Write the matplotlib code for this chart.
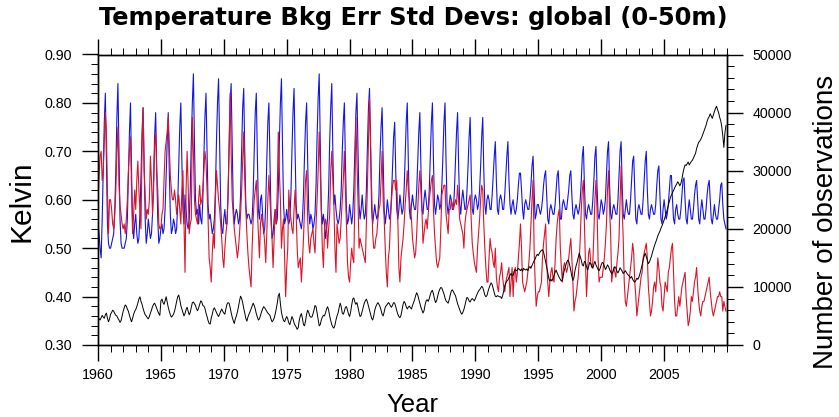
import numpy as np
import matplotlib
matplotlib.use("Agg")
import matplotlib.pyplot as plt
from matplotlib.ticker import MultipleLocator, FormatStrFormatter

# ---------------- data (monthly, one row per year, 1960..2009) ----------------
years = list(range(1960, 2010))

blue_std = [
    [0.55, 0.53, 0.50, 0.48, 0.56, 0.66, 0.76, 0.82, 0.68, 0.55, 0.51, 0.50],  # 1960
    [0.50, 0.51, 0.52, 0.53, 0.58, 0.66, 0.77, 0.84, 0.70, 0.56, 0.51, 0.50],
    [0.50, 0.50, 0.51, 0.52, 0.56, 0.65, 0.74, 0.80, 0.66, 0.55, 0.52, 0.55],
    [0.57, 0.53, 0.51, 0.52, 0.57, 0.65, 0.74, 0.79, 0.67, 0.56, 0.51, 0.53],
    [0.56, 0.54, 0.52, 0.53, 0.57, 0.64, 0.73, 0.78, 0.66, 0.56, 0.51, 0.52],
    [0.54, 0.55, 0.53, 0.54, 0.58, 0.65, 0.72, 0.78, 0.66, 0.57, 0.53, 0.54],  # 1965
    [0.56, 0.55, 0.53, 0.54, 0.59, 0.67, 0.75, 0.80, 0.68, 0.58, 0.55, 0.61],
    [0.58, 0.55, 0.54, 0.56, 0.62, 0.72, 0.80, 0.86, 0.72, 0.60, 0.57, 0.58],
    [0.55, 0.59, 0.56, 0.55, 0.60, 0.69, 0.77, 0.82, 0.70, 0.59, 0.56, 0.57],
    [0.55, 0.53, 0.54, 0.56, 0.62, 0.72, 0.80, 0.85, 0.72, 0.59, 0.54, 0.53],
    [0.56, 0.58, 0.55, 0.55, 0.61, 0.71, 0.80, 0.84, 0.71, 0.59, 0.55, 0.57],  # 1970
    [0.58, 0.57, 0.55, 0.56, 0.61, 0.70, 0.79, 0.83, 0.70, 0.59, 0.56, 0.57],
    [0.57, 0.56, 0.55, 0.56, 0.61, 0.70, 0.78, 0.82, 0.69, 0.58, 0.56, 0.60],
    [0.61, 0.57, 0.53, 0.54, 0.59, 0.68, 0.76, 0.80, 0.68, 0.57, 0.52, 0.53],
    [0.56, 0.58, 0.55, 0.56, 0.62, 0.72, 0.80, 0.85, 0.71, 0.59, 0.55, 0.56],
    [0.58, 0.56, 0.55, 0.56, 0.61, 0.70, 0.78, 0.83, 0.70, 0.59, 0.56, 0.57],  # 1975
    [0.56, 0.55, 0.54, 0.56, 0.61, 0.69, 0.76, 0.80, 0.68, 0.58, 0.55, 0.57],
    [0.56, 0.54, 0.55, 0.57, 0.63, 0.73, 0.81, 0.86, 0.72, 0.58, 0.55, 0.57],
    [0.55, 0.52, 0.54, 0.56, 0.62, 0.72, 0.79, 0.84, 0.70, 0.59, 0.61, 0.58],
    [0.56, 0.55, 0.56, 0.58, 0.62, 0.70, 0.76, 0.80, 0.68, 0.58, 0.55, 0.56],
    [0.59, 0.57, 0.55, 0.57, 0.62, 0.70, 0.78, 0.82, 0.70, 0.59, 0.56, 0.58],  # 1980
    [0.61, 0.58, 0.56, 0.57, 0.62, 0.71, 0.79, 0.83, 0.70, 0.58, 0.55, 0.57],
    [0.59, 0.57, 0.56, 0.57, 0.61, 0.69, 0.75, 0.79, 0.68, 0.58, 0.55, 0.57],
    [0.60, 0.58, 0.56, 0.57, 0.61, 0.67, 0.73, 0.76, 0.66, 0.58, 0.56, 0.58],
    [0.61, 0.59, 0.57, 0.58, 0.62, 0.69, 0.76, 0.80, 0.68, 0.58, 0.56, 0.59],
    [0.61, 0.59, 0.58, 0.58, 0.62, 0.68, 0.74, 0.78, 0.67, 0.58, 0.57, 0.60],  # 1985
    [0.62, 0.60, 0.58, 0.58, 0.62, 0.69, 0.76, 0.80, 0.68, 0.59, 0.57, 0.59],
    [0.61, 0.60, 0.58, 0.59, 0.63, 0.69, 0.76, 0.80, 0.68, 0.59, 0.57, 0.59],
    [0.61, 0.60, 0.58, 0.58, 0.62, 0.68, 0.74, 0.78, 0.67, 0.59, 0.57, 0.60],
    [0.62, 0.60, 0.58, 0.58, 0.62, 0.67, 0.73, 0.77, 0.66, 0.58, 0.57, 0.60],
    [0.61, 0.60, 0.58, 0.59, 0.62, 0.67, 0.73, 0.77, 0.66, 0.59, 0.57, 0.60],  # 1990
    [0.61, 0.60, 0.58, 0.58, 0.61, 0.65, 0.69, 0.72, 0.64, 0.58, 0.57, 0.60],
    [0.61, 0.60, 0.58, 0.58, 0.61, 0.65, 0.69, 0.72, 0.64, 0.59, 0.57, 0.59],
    [0.60, 0.58, 0.57, 0.58, 0.60, 0.63, 0.655, 0.655, 0.62, 0.58, 0.56, 0.59],
    [0.60, 0.59, 0.58, 0.58, 0.60, 0.63, 0.67, 0.69, 0.62, 0.56, 0.57, 0.59],
    [0.59, 0.58, 0.57, 0.58, 0.60, 0.63, 0.65, 0.66, 0.61, 0.56, 0.55, 0.58],  # 1995
    [0.59, 0.58, 0.57, 0.57, 0.59, 0.62, 0.65, 0.66, 0.61, 0.56, 0.56, 0.59],
    [0.60, 0.59, 0.58, 0.58, 0.60, 0.62, 0.65, 0.66, 0.61, 0.57, 0.56, 0.58],
    [0.59, 0.58, 0.57, 0.58, 0.60, 0.64, 0.69, 0.71, 0.63, 0.57, 0.56, 0.58],
    [0.59, 0.58, 0.57, 0.57, 0.60, 0.64, 0.69, 0.71, 0.63, 0.57, 0.56, 0.58],
    [0.60, 0.59, 0.57, 0.58, 0.60, 0.65, 0.70, 0.72, 0.63, 0.57, 0.56, 0.58],  # 2000
    [0.59, 0.58, 0.57, 0.57, 0.60, 0.65, 0.70, 0.72, 0.63, 0.57, 0.56, 0.58],
    [0.60, 0.58, 0.57, 0.57, 0.60, 0.64, 0.68, 0.69, 0.62, 0.56, 0.55, 0.58],
    [0.59, 0.58, 0.57, 0.57, 0.60, 0.64, 0.68, 0.70, 0.62, 0.57, 0.56, 0.58],
    [0.59, 0.58, 0.57, 0.57, 0.59, 0.63, 0.66, 0.67, 0.61, 0.56, 0.55, 0.58],
    [0.60, 0.58, 0.56, 0.57, 0.59, 0.62, 0.65, 0.65, 0.60, 0.56, 0.55, 0.58],  # 2005
    [0.59, 0.57, 0.56, 0.56, 0.58, 0.61, 0.64, 0.645, 0.60, 0.56, 0.55, 0.58],
    [0.60, 0.58, 0.56, 0.56, 0.58, 0.61, 0.63, 0.64, 0.60, 0.56, 0.55, 0.58],
    [0.60, 0.58, 0.56, 0.56, 0.58, 0.61, 0.63, 0.64, 0.60, 0.56, 0.55, 0.57],
    [0.59, 0.57, 0.56, 0.56, 0.58, 0.60, 0.63, 0.635, 0.59, 0.56, 0.55, 0.54],
]

red_std = [
    [0.60, 0.65, 0.69, 0.70, 0.64, 0.66, 0.72, 0.78, 0.74, 0.62, 0.53, 0.60],  # 1960
    [0.60, 0.58, 0.55, 0.54, 0.57, 0.62, 0.70, 0.75, 0.63, 0.59, 0.57, 0.55],
    [0.54, 0.55, 0.53, 0.56, 0.60, 0.66, 0.70, 0.73, 0.62, 0.53, 0.57, 0.62],
    [0.58, 0.64, 0.68, 0.62, 0.58, 0.54, 0.70, 0.79, 0.66, 0.61, 0.56, 0.58],
    [0.57, 0.60, 0.69, 0.64, 0.57, 0.62, 0.71, 0.74, 0.66, 0.62, 0.55, 0.54],
    [0.54, 0.57, 0.58, 0.64, 0.70, 0.72, 0.74, 0.77, 0.71, 0.65, 0.62, 0.60],  # 1965
    [0.60, 0.62, 0.60, 0.57, 0.59, 0.61, 0.58, 0.55, 0.62, 0.66, 0.55, 0.45],
    [0.62, 0.70, 0.63, 0.53, 0.55, 0.56, 0.77, 0.70, 0.60, 0.57, 0.56, 0.55],
    [0.60, 0.63, 0.59, 0.60, 0.62, 0.66, 0.70, 0.68, 0.62, 0.56, 0.48, 0.46],
    [0.43, 0.49, 0.53, 0.50, 0.60, 0.66, 0.63, 0.60, 0.58, 0.55, 0.52, 0.48],
    [0.46, 0.50, 0.53, 0.55, 0.60, 0.70, 0.82, 0.70, 0.60, 0.57, 0.54, 0.52],  # 1970
    [0.50, 0.48, 0.50, 0.53, 0.57, 0.62, 0.68, 0.74, 0.64, 0.58, 0.53, 0.49],
    [0.46, 0.44, 0.42, 0.50, 0.56, 0.60, 0.62, 0.64, 0.58, 0.53, 0.48, 0.55],
    [0.57, 0.55, 0.54, 0.51, 0.47, 0.53, 0.60, 0.65, 0.60, 0.56, 0.52, 0.46],
    [0.52, 0.58, 0.55, 0.62, 0.74, 0.66, 0.60, 0.50, 0.54, 0.56, 0.48, 0.40],
    [0.46, 0.50, 0.62, 0.58, 0.56, 0.54, 0.53, 0.58, 0.62, 0.57, 0.50, 0.46],  # 1975
    [0.47, 0.48, 0.43, 0.47, 0.52, 0.58, 0.64, 0.66, 0.56, 0.51, 0.49, 0.52],
    [0.53, 0.54, 0.51, 0.49, 0.55, 0.60, 0.66, 0.74, 0.66, 0.58, 0.50, 0.46],
    [0.53, 0.56, 0.55, 0.50, 0.54, 0.57, 0.66, 0.70, 0.64, 0.59, 0.50, 0.45],
    [0.55, 0.53, 0.51, 0.52, 0.56, 0.60, 0.64, 0.70, 0.62, 0.55, 0.47, 0.44],
    [0.43, 0.47, 0.50, 0.48, 0.47, 0.60, 0.77, 0.68, 0.60, 0.50, 0.52, 0.51],  # 1980
    [0.50, 0.49, 0.48, 0.47, 0.55, 0.63, 0.72, 0.81, 0.72, 0.62, 0.53, 0.50],
    [0.50, 0.52, 0.53, 0.56, 0.58, 0.59, 0.64, 0.70, 0.60, 0.56, 0.50, 0.45],
    [0.42, 0.48, 0.50, 0.56, 0.60, 0.63, 0.64, 0.64, 0.62, 0.64, 0.56, 0.46],
    [0.43, 0.48, 0.50, 0.52, 0.55, 0.59, 0.62, 0.66, 0.62, 0.60, 0.58, 0.56],
    [0.52, 0.50, 0.48, 0.49, 0.53, 0.58, 0.63, 0.66, 0.62, 0.58, 0.51, 0.53],  # 1985
    [0.55, 0.56, 0.54, 0.57, 0.60, 0.62, 0.64, 0.65, 0.58, 0.53, 0.50, 0.47],
    [0.46, 0.47, 0.48, 0.54, 0.61, 0.62, 0.63, 0.63, 0.57, 0.55, 0.53, 0.58],
    [0.58, 0.60, 0.59, 0.58, 0.59, 0.60, 0.59, 0.63, 0.60, 0.56, 0.55, 0.54],
    [0.53, 0.50, 0.55, 0.57, 0.58, 0.59, 0.60, 0.61, 0.56, 0.51, 0.49, 0.47],
    [0.46, 0.45, 0.50, 0.53, 0.56, 0.60, 0.63, 0.62, 0.55, 0.50, 0.46, 0.43],  # 1990
    [0.43, 0.48, 0.52, 0.50, 0.49, 0.47, 0.46, 0.50, 0.44, 0.42, 0.41, 0.44],
    [0.45, 0.47, 0.44, 0.42, 0.41, 0.43, 0.44, 0.45, 0.46, 0.40, 0.43, 0.46],
    [0.40, 0.45, 0.46, 0.43, 0.45, 0.48, 0.51, 0.55, 0.50, 0.43, 0.42, 0.41],
    [0.42, 0.43, 0.45, 0.47, 0.50, 0.55, 0.60, 0.64, 0.50, 0.43, 0.38, 0.40],
    [0.41, 0.41, 0.42, 0.43, 0.48, 0.51, 0.53, 0.55, 0.47, 0.43, 0.40, 0.43],  # 1995
    [0.45, 0.46, 0.44, 0.43, 0.47, 0.52, 0.55, 0.57, 0.58, 0.50, 0.46, 0.43],
    [0.46, 0.47, 0.46, 0.45, 0.46, 0.48, 0.50, 0.52, 0.48, 0.43, 0.37, 0.39],
    [0.40, 0.42, 0.44, 0.47, 0.52, 0.58, 0.62, 0.64, 0.55, 0.47, 0.40, 0.45],
    [0.49, 0.50, 0.47, 0.46, 0.47, 0.53, 0.60, 0.64, 0.58, 0.48, 0.43, 0.44],
    [0.44, 0.44, 0.46, 0.48, 0.51, 0.55, 0.62, 0.66, 0.58, 0.53, 0.43, 0.45],  # 2000
    [0.46, 0.45, 0.44, 0.47, 0.49, 0.52, 0.60, 0.67, 0.58, 0.52, 0.43, 0.39],
    [0.38, 0.40, 0.42, 0.44, 0.46, 0.48, 0.51, 0.49, 0.43, 0.40, 0.36, 0.38],
    [0.40, 0.42, 0.44, 0.45, 0.48, 0.49, 0.50, 0.51, 0.48, 0.42, 0.39, 0.36],
    [0.37, 0.39, 0.42, 0.43, 0.41, 0.44, 0.48, 0.46, 0.43, 0.42, 0.38, 0.37],
    [0.40, 0.43, 0.42, 0.41, 0.45, 0.46, 0.48, 0.50, 0.51, 0.45, 0.39, 0.36],  # 2005
    [0.36, 0.38, 0.40, 0.38, 0.40, 0.42, 0.43, 0.44, 0.45, 0.40, 0.37, 0.34],
    [0.35, 0.37, 0.40, 0.39, 0.41, 0.43, 0.44, 0.46, 0.42, 0.39, 0.37, 0.36],
    [0.38, 0.39, 0.39, 0.40, 0.41, 0.42, 0.43, 0.44, 0.41, 0.39, 0.37, 0.36],
    [0.37, 0.38, 0.39, 0.40, 0.40, 0.41, 0.40, 0.40, 0.37, 0.39, 0.38, 0.37],
]

num_obs = [
    [4900, 4500, 4300, 4700, 5100, 4800, 4600, 5200, 5500, 4600, 4000, 4500],  # 1960
    [5300, 5600, 6000, 5800, 5400, 5100, 5000, 4600, 4300, 3900, 4200, 5000],
    [5800, 6400, 6900, 6700, 6200, 5800, 5100, 4500, 4000, 4600, 5300, 5800],
    [6100, 6600, 7200, 7900, 8300, 7500, 7000, 6300, 5700, 5200, 5000, 4700],
    [4500, 4900, 5500, 6000, 6600, 7000, 7200, 6800, 6300, 5800, 5400, 5100],
    [7600, 7900, 7300, 7000, 7600, 8300, 7400, 6500, 5800, 5200, 4800, 5000],  # 1965
    [5300, 5800, 6600, 7500, 8300, 8600, 7800, 6800, 6200, 5600, 5000, 5400],
    [6100, 6500, 5800, 5200, 5600, 6500, 7300, 7400, 7100, 6800, 6200, 5900],
    [6400, 7000, 7600, 7400, 6800, 6700, 6300, 5500, 4900, 4200, 3700, 3600],
    [4600, 5300, 6100, 6400, 6000, 5600, 5200, 4900, 5300, 5800, 6200, 5800],
    [5500, 5300, 6200, 7000, 7300, 7200, 6500, 5600, 4800, 4200, 3700, 4500],  # 1970
    [5000, 5700, 6600, 7600, 8400, 8000, 7300, 6300, 5500, 4600, 4100, 4800],
    [5300, 5700, 6200, 6700, 7200, 6800, 6200, 5400, 4800, 4300, 4500, 5100],
    [5700, 6200, 6600, 6400, 6100, 5800, 5500, 5300, 5100, 4500, 4000, 4200],
    [4600, 5300, 6200, 7200, 8500, 8900, 7100, 5600, 4800, 4200, 4000, 4500],
    [4900, 4500, 3800, 3500, 4200, 4900, 4500, 3800, 3400, 3100, 2700, 3000],  # 1975
    [4300, 5000, 5400, 4600, 3500, 3300, 4200, 5300, 6000, 5600, 5000, 4800],
    [4800, 5300, 6000, 6800, 6600, 5500, 4300, 3300, 3500, 4300, 4800, 5100],
    [5000, 5500, 6200, 6600, 6000, 5000, 4200, 3500, 3100, 2900, 3400, 4300],
    [5000, 5500, 6400, 7200, 6600, 5500, 5300, 5800, 6500, 6600, 6000, 5300],
    [4900, 5700, 6900, 7900, 8100, 7400, 7000, 7300, 6500, 5600, 4900, 5100],  # 1980
    [5800, 6500, 7200, 7600, 7900, 7400, 6700, 6000, 5300, 4600, 4300, 5000],
    [6000, 6600, 7000, 7300, 7000, 6600, 6000, 5300, 5000, 5700, 6500, 6800],
    [7000, 7300, 7100, 6700, 6500, 6900, 7300, 7200, 6600, 5900, 5300, 4900],
    [4700, 5100, 6000, 7000, 7500, 7200, 6600, 6200, 6500, 6700, 6400, 6200],
    [6800, 7300, 7800, 8500, 9000, 8600, 7900, 7200, 6500, 6000, 5500, 5900],  # 1985
    [6900, 7600, 7800, 7500, 8000, 8700, 9200, 9400, 8800, 7900, 7300, 7600],
    [8400, 9100, 9600, 9900, 9800, 9300, 8800, 8100, 7600, 7400, 7200, 7800],
    [8600, 9300, 9500, 9200, 8800, 8500, 7800, 7100, 6600, 6100, 5600, 5300],
    [5600, 6100, 6800, 7600, 8200, 8000, 7600, 7400, 7800, 8000, 7800, 7600],
    [8000, 8500, 8900, 9300, 9500, 9800, 10100, 9900, 9300, 8600, 8300, 8500],  # 1990
    [9200, 9800, 10300, 10700, 10400, 9700, 9000, 8400, 8300, 8500, 8400, 8300],
    [8300, 8000, 8500, 9300, 10200, 10700, 11000, 11200, 11600, 12000, 12300, 12000],
    [12000, 12700, 13000, 12800, 12900, 13200, 13000, 12800, 13100, 12700, 13200, 13000],
    [12900, 13100, 12800, 13300, 13500, 13200, 13700, 14100, 14500, 14800, 15300, 15600],
    [15400, 15800, 16100, 16300, 16400, 16000, 15200, 14300, 13400, 12500, 11500, 11000],  # 1995
    [11300, 11000, 11500, 12000, 12500, 12900, 12400, 12000, 11600, 11300, 11000, 11200],
    [12200, 13000, 13600, 14200, 14600, 14400, 13700, 12800, 11800, 11100, 11600, 12800],
    [13600, 14200, 15000, 15800, 15200, 14600, 13800, 13600, 14400, 14200, 13500, 12900],
    [13500, 14200, 14000, 13600, 13200, 13900, 14400, 13800, 13400, 13000, 12800, 13200],
    [13800, 14200, 14100, 13600, 13000, 13300, 13800, 13500, 13000, 12600, 12300, 12500],  # 2000
    [13100, 13500, 13200, 12700, 12400, 12800, 13300, 13000, 12700, 12300, 12500, 12800],
    [12500, 12200, 12000, 11800, 11500, 11800, 11300, 11000, 10800, 11100, 11500, 11300],
    [11700, 12300, 13000, 13800, 14600, 15300, 15800, 15200, 14600, 14000, 14300, 14800],
    [15300, 16000, 16600, 17200, 17700, 18200, 18800, 19200, 19600, 20100, 20500, 21000],
    [21500, 22100, 22600, 23300, 24000, 24700, 25400, 25800, 26200, 26600, 27000, 27400],  # 2005
    [27700, 28100, 27800, 27400, 27800, 28600, 29600, 30400, 31000, 30900, 31200, 31500],
    [31000, 31300, 31600, 31800, 32200, 32600, 33000, 33800, 34400, 34900, 35100, 35400],
    [35800, 36300, 36800, 37300, 37800, 38500, 39000, 39300, 39800, 39400, 39000, 39600],
    [40200, 40700, 41100, 40500, 40000, 39200, 38600, 37600, 36000, 34000, 36500, 37800],
]

x_ticks = [1960, 1965, 1970, 1975, 1980, 1985, 1990, 1995, 2000, 2005]
left_ticks = [0.30, 0.40, 0.50, 0.60, 0.70, 0.80, 0.90]
right_ticks = [0, 10000, 20000, 30000, 40000, 50000]

# ---------------- build monthly time axis ----------------
time = np.array([y + m / 12.0 for y in years for m in range(12)])
blue = np.array(blue_std).ravel()
red = np.array(red_std).ravel()
obs = np.array(num_obs).ravel()

W, H = 839, 417
fig = plt.figure(figsize=(W / 100, H / 100), dpi=100)
ax = fig.add_axes([98 / W, 1 - 345 / H, (727 - 98) / W, (345 - 54.5) / H])
ax2 = ax.twinx()

FAM = ['Liberation Sans', 'DejaVu Sans']

ax.plot(time, blue, color='#1414e6', lw=0.8)
ax.plot(time, red, color='#dc1428', lw=0.8)
ax2.plot(time, obs, color='black', lw=0.7)

ax.set_xlim(1960, 2010)
ax.set_ylim(0.3, 0.9)
ax2.set_ylim(0, 50000)

ax.set_xticks(x_ticks)
ax.xaxis.set_minor_locator(MultipleLocator(1))
ax.set_yticks(left_ticks)
ax.yaxis.set_minor_locator(MultipleLocator(0.02))
ax.yaxis.set_major_formatter(FormatStrFormatter('%.2f'))
ax2.set_yticks(right_ticks)
ax2.yaxis.set_minor_locator(MultipleLocator(2000))

for a in (ax, ax2):
    for s in a.spines.values():
        s.set_linewidth(1.0)

ax.tick_params(axis='both', which='major', direction='out', length=11.5, width=1.0,
               top=True, labeltop=False)
ax.tick_params(axis='x', which='major', pad=5)
ax.tick_params(axis='y', which='major', pad=7)
ax.tick_params(axis='both', which='minor', direction='out', length=5, width=0.7,
               top=True)
ax.tick_params(axis='y', which='both', right=False)
ax2.tick_params(axis='y', which='major', direction='out', length=11.5, width=1.0, pad=7)
ax2.tick_params(axis='y', which='minor', direction='out', length=5, width=0.7)

for lab in ax.get_xticklabels() + ax.get_yticklabels() + ax2.get_yticklabels():
    lab.set_fontfamily(FAM)
    lab.set_fontsize(10.3)

ax.set_xlabel('Year', family=FAM, fontsize=18.5, labelpad=8)
fig.text(21 / W, 1 - 201 / H, 'Kelvin', family=FAM, fontsize=21.5,
         rotation=90, ha='center', va='center')
fig.text(826 / W, 1 - 222 / H, 'Number of observations', family=FAM, fontsize=20,
         rotation=90, ha='center', va='center')
fig.text(413 / W, 1 - 25 / H, 'Temperature Bkg Err Std Devs: global (0-50m)',
         family=['DejaVu Sans'], fontweight='bold', fontsize=17.4,
         ha='center', va='baseline')

fig.savefig('out.png', dpi=100)
